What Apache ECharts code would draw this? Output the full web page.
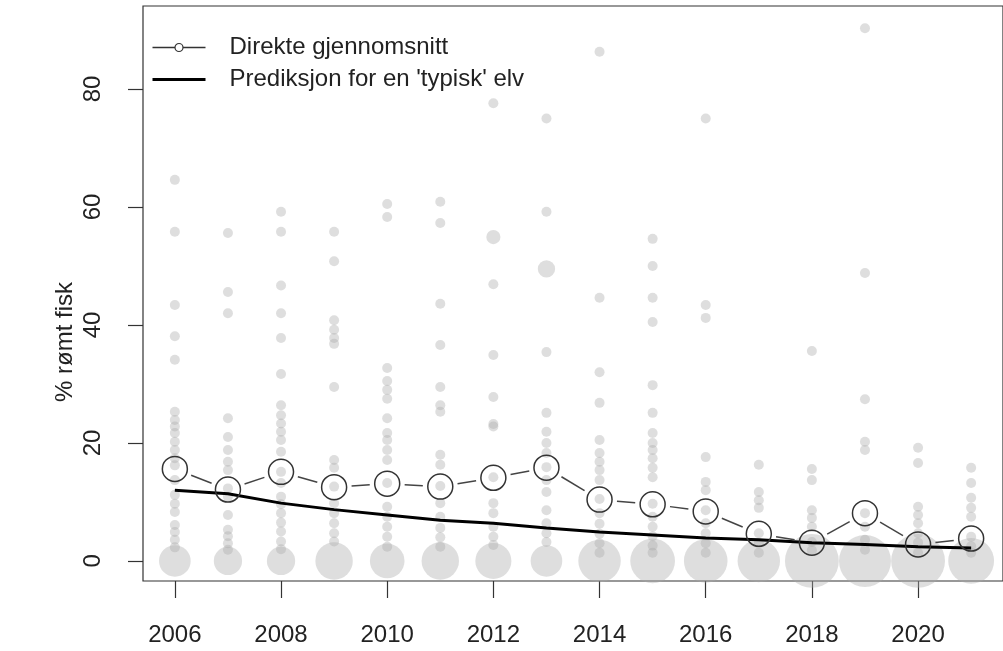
<!DOCTYPE html>
<html>
<head>
<meta charset="utf-8">
<title>Rømt fisk</title>
<script src="https://cdn.jsdelivr.net/npm/echarts@6/dist/echarts.min.js"></script>
<style>
  html, body { margin: 0; padding: 0; background: #fff; }
  #main { width: 1003px; height: 651px; }
</style>
</head>
<body>
<div id="main"></div>
<script>
  // år
  var years = [2006, 2007, 2008, 2009, 2010, 2011, 2012, 2013, 2014, 2015, 2016, 2017, 2018, 2019, 2020, 2021];

  // % rømt fisk per elv (lest av figuren)
  var elv2006 = [64.6, 55.8, 43.4, 38.1, 34.1, 25.3, 23.9, 22.8, 21.7, 20.2, 18.8, 17.4, 16.2, 13.7, 11.2, 9.7, 8.3, 6.1, 4.9, 3.6, 2.3];
  var elv2007 = [55.6, 45.6, 42.0, 24.2, 21.0, 18.8, 16.8, 15.4, 12.3, 10.9, 7.8, 5.3, 4.2, 3.0, 1.9];
  var elv2008 = [59.2, 55.8, 46.7, 42.0, 37.8, 31.7, 26.4, 24.7, 23.3, 21.9, 20.5, 18.5, 15.1, 13.2, 10.9, 9.6, 8.1, 6.5, 5.0, 3.3, 2.0];
  var elv2009 = [55.8, 50.8, 40.8, 39.2, 37.8, 36.8, 29.5, 17.1, 15.8, 12.6, 9.8, 8.1, 6.4, 4.7, 3.3];
  var elv2010 = [60.5, 58.3, 32.7, 30.5, 29.0, 27.5, 24.2, 21.7, 20.5, 18.8, 17.1, 13.2, 9.2, 7.5, 5.8, 4.1, 2.4];
  var elv2011 = [60.9, 57.3, 43.6, 36.6, 29.5, 26.4, 25.3, 18.0, 16.3, 12.7, 9.8, 7.5, 5.6, 4.0, 2.4];
  var elv2012 = [77.6, 46.9, 34.9, 27.8, 23.2, 22.8, 14.2, 9.8, 8.1, 5.8, 4.1, 2.7];
  var elv2013 = [75.0, 59.2, 35.4, 25.1, 21.9, 20.0, 18.3, 15.9, 13.7, 11.7, 8.6, 6.4, 4.7, 3.2];
  var elv2014 = [86.3, 44.6, 32.0, 26.8, 20.5, 18.3, 16.8, 15.4, 13.7, 10.5, 8.1, 6.3, 4.6, 3.0, 1.4];
  var elv2015 = [54.6, 50.0, 44.6, 40.5, 29.8, 25.1, 21.7, 20.0, 18.8, 17.4, 15.8, 14.2, 9.7, 7.5, 5.8, 4.2, 2.6, 1.4];
  var elv2016 = [75.0, 43.4, 41.2, 17.6, 13.4, 12.0, 8.6, 6.4, 4.7, 3.0, 1.4];
  var elv2017 = [16.3, 11.7, 10.3, 9.0, 4.7, 3.0, 1.4];
  var elv2018 = [35.6, 15.6, 13.7, 8.6, 7.3, 5.8, 3.2, 1.8];
  var elv2019 = [90.3, 48.8, 27.4, 20.2, 18.8, 8.1, 5.8, 3.6, 1.9];
  var elv2020 = [19.2, 16.6, 9.2, 7.8, 6.4, 4.7, 3.1, 1.4];
  var elv2021 = [15.8, 13.2, 10.7, 9.0, 7.5, 4.1, 2.5, 1.4];
  var elver = [elv2006, elv2007, elv2008, elv2009, elv2010, elv2011, elv2012, elv2013,
               elv2014, elv2015, elv2016, elv2017, elv2018, elv2019, elv2020, elv2021];

  // antall elver med 0 % (gir størrelsen på sirkelen ved 0)
  var nullElver = [10, 8, 8, 14, 12, 14, 13, 10, 18, 20, 19, 18, 29, 27, 29, 21];

  // enkeltpunkter med større vekt: [år, verdi, vekt]
  var tyngre = [[2012, 54.9, 2], [2013, 49.5, 3]];

  // direkte gjennomsnitt
  var snitt = [15.6, 12.1, 15.1, 12.5, 13.1, 12.6, 14.1, 15.8, 10.4, 9.6, 8.4, 4.6, 3.1, 8.1, 2.8, 3.8];

  // prediksjon for en 'typisk' elv
  var prediksjon = [12.0, 11.4, 9.8, 8.7, 7.8, 6.9, 6.4, 5.6, 4.9, 4.4, 3.9, 3.6, 3.1, 2.8, 2.4, 2.2];

  var xTicks = [2006, 2008, 2010, 2012, 2014, 2016, 2018, 2020];
  var yTicks = [0, 20, 40, 60, 80];

  var navnSnitt = 'Direkte gjennomsnitt';
  var navnPred = "Prediksjon for en 'typisk' elv";

  // bygg punktdata
  var punkter = [];
  years.forEach(function (yr, i) {
    punkter.push([yr, 0, nullElver[i]]);
    elver[i].forEach(function (v) {
      punkter.push([yr, v, 1]);
    });
  });
  tyngre.forEach(function (p) { punkter.push(p); });

  var snittData = years.map(function (yr, i) { return [yr, snitt[i]]; });
  var predData = years.map(function (yr, i) { return [yr, prediksjon[i]]; });

  // linjestykker mellom gjennomsnittspunktene (type "b" i R: luke rundt punktene)
  var segmenter = [];
  for (var i = 0; i < years.length - 1; i++) {
    segmenter.push([years[i], snitt[i], years[i + 1], snitt[i + 1]]);
  }

  var sirkel = 25;
  var luke = sirkel / 2 + 5;

  var font = 'Liberation Sans, Arial, sans-serif';

  var chart = echarts.init(document.getElementById('main'));
  var option = {
    animation: false,
    backgroundColor: '#fff',
    grid: {
      left: 143,
      top: 6,
      width: 872,
      height: 575,
      show: true,
      borderColor: '#333',
      borderWidth: 1.2,
      backgroundColor: 'transparent'
    },
    legend: {
      orient: 'vertical',
      left: 146,
      top: 29,
      itemWidth: 53,
      itemHeight: 10,
      itemGap: 5,
      textStyle: {
        fontFamily: font,
        fontSize: 24,
        color: '#222',
        lineHeight: 27,
        padding: [0, 0, 0, 19]
      },
      data: [
        {
          name: navnSnitt,
          lineStyle: { width: 1.5, color: '#333', opacity: 1 },
          itemStyle: { color: '#fff', borderColor: '#333', borderWidth: 1.2 }
        },
        {
          name: navnPred,
          lineStyle: { width: 3, color: '#000', opacity: 1 },
          itemStyle: { color: 'rgba(0,0,0,0)', borderWidth: 0 }
        }
      ]
    },
    xAxis: {
      type: 'value',
      min: 2005.4,
      max: 2021.6,
      axisLine: { show: false, onZero: false },
      splitLine: { show: false },
      axisTick: {
        show: true,
        inside: false,
        length: 17,
        customValues: xTicks,
        lineStyle: { color: '#333', width: 1.2 }
      },
      axisLabel: {
        customValues: xTicks,
        inside: false,
        margin: 42,
        fontFamily: font,
        fontSize: 24,
        color: '#222',
        formatter: function (v) { return String(v); }
      }
    },
    yAxis: {
      type: 'value',
      min: -3.4,
      max: 94.07,
      axisLine: { show: false, onZero: false },
      splitLine: { show: false },
      axisTick: {
        show: true,
        inside: false,
        length: 15,
        customValues: yTicks,
        lineStyle: { color: '#333', width: 1.2 }
      },
      axisLabel: {
        customValues: yTicks,
        rotate: 90,
        margin: 38,
        fontFamily: font,
        fontSize: 24,
        color: '#222'
      }
    },
    graphic: [
      {
        type: 'text',
        x: 65,
        y: 342,
        rotation: Math.PI / 2,
        style: {
          text: '% rømt fisk',
          fontFamily: font,
          fontSize: 24,
          fill: '#222',
          align: 'center',
          verticalAlign: 'middle'
        }
      }
    ],
    series: [
      {
        name: 'elver',
        type: 'scatter',
        data: punkter,
        clip: true,
        symbol: 'circle',
        symbolSize: function (d) { return 10 * Math.sqrt(d[2]); },
        itemStyle: { color: 'rgba(170,170,170,0.48)' },
        z: 1
      },
      {
        name: navnPred,
        type: 'line',
        data: predData,
        symbol: 'none',
        lineStyle: { color: '#000', width: 3 },
        z: 3
      },
      {
        name: 'segmenter',
        type: 'custom',
        data: segmenter,
        renderItem: function (params, api) {
          var p0 = api.coord([api.value(0), api.value(1)]);
          var p1 = api.coord([api.value(2), api.value(3)]);
          var dx = p1[0] - p0[0];
          var dy = p1[1] - p0[1];
          var len = Math.sqrt(dx * dx + dy * dy);
          if (len <= 2 * luke) return null;
          var ux = dx / len, uy = dy / len;
          return {
            type: 'line',
            shape: {
              x1: p0[0] + ux * luke, y1: p0[1] + uy * luke,
              x2: p1[0] - ux * luke, y2: p1[1] - uy * luke
            },
            style: { stroke: '#444', lineWidth: 1.5 }
          };
        },
        z: 4
      },
      {
        name: navnSnitt,
        type: 'line',
        data: snittData,
        symbol: 'circle',
        symbolSize: sirkel,
        showSymbol: true,
        lineStyle: { width: 0, opacity: 0 },
        itemStyle: { color: 'rgba(0,0,0,0)', borderColor: '#333', borderWidth: 1.5 },
        z: 5
      }
    ]
  };
  chart.setOption(option);

  window.addEventListener('resize', function () {
    chart.resize();
  });
</script>
</body>
</html>
